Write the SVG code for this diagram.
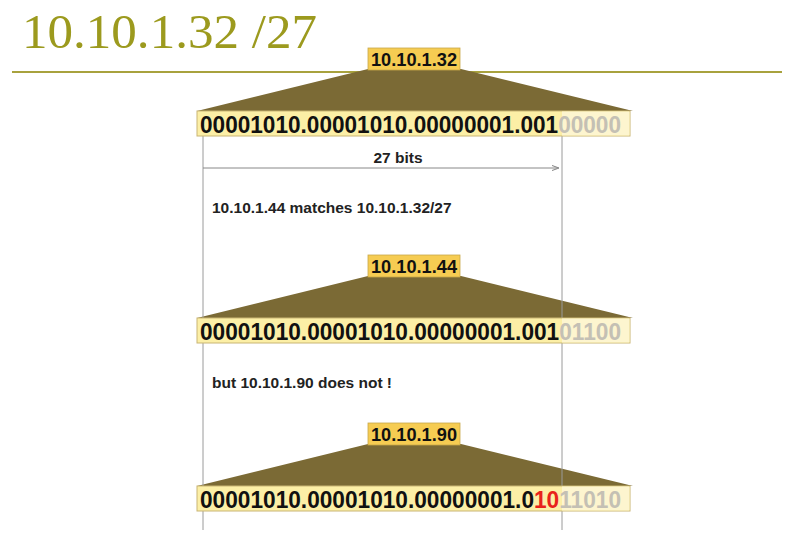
<svg xmlns="http://www.w3.org/2000/svg" width="788" height="546" viewBox="0 0 788 546">
<defs>
<style>
.title{font-family:"Liberation Serif","Times New Roman",serif;font-size:49px;fill:#9c9a1e}
.lbl{font-family:"Liberation Sans",Arial,sans-serif;font-weight:bold;font-size:18px;fill:#111}
.bin{font-family:"Liberation Sans",Arial,sans-serif;font-weight:bold;font-size:24px;fill:#111}
.note{font-family:"Liberation Sans",Arial,sans-serif;font-weight:bold;font-size:15.5px;fill:#222}
.trap{fill:#7b6a35}
.lbox{fill:#f6cc52;stroke:#c9a84a;stroke-width:0.8}
.bbox{fill:#fcefa6;stroke:#c9b574;stroke-width:1}
.bpale{fill:#fdf5cf}
.gray{fill:#c4c0b4}
.red{fill:#e8231b}
.vline{stroke:#9a9a9a;stroke-width:1;fill:none}
</style>
<marker id="arr" viewBox="0 0 10 10" refX="10" refY="5" markerWidth="7" markerHeight="7" orient="auto" markerUnits="userSpaceOnUse">
<path d="M0,1.5 L10,5 L0,8.5" fill="none" stroke="#888" stroke-width="1.5"/>
</marker>
</defs>
<rect width="788" height="546" fill="#ffffff"/>
<g id="header">
<text class="title" x="22" y="48" textLength="295" lengthAdjust="spacingAndGlyphs">10.10.1.32 /27</text>
<line x1="12" y1="72" x2="782" y2="72" stroke="#a8a23e" stroke-width="2"/>
</g>
<g id="trapezoids">
<polygon class="trap" points="368,69 461,69 633,111 197,111"/>
<polygon class="trap" points="368,276 461,276 633,318 197,318"/>
<polygon class="trap" points="368,444 461,444 633,486 197,486"/>
</g>
<g id="connectors">
<line class="vline" x1="203" y1="136" x2="203" y2="530"/>
<line class="vline" x1="562" y1="136" x2="562" y2="530"/>
<line x1="203" y1="168" x2="559" y2="168" stroke="#888" stroke-width="1" marker-end="url(#arr)"/>
</g>
<g id="node-32">
<rect class="lbox" x="368" y="48" width="92" height="22"/>
<text class="lbl" x="414" y="66" text-anchor="middle" textLength="86" lengthAdjust="spacingAndGlyphs">10.10.1.32</text>
<rect class="bbox" x="197" y="111" width="433" height="25"/>
<rect class="bpale" x="562" y="111.5" width="67.5" height="24"/>
<text class="bin" x="200" y="132.5" textLength="421" lengthAdjust="spacingAndGlyphs">00001010.00001010.00000001.001<tspan class="gray">00000</tspan></text>
</g>
<g id="label-27bits">
<text class="note" x="398" y="163" text-anchor="middle" font-size="14.5">27 bits</text>
</g>
<g id="note-match">
<text class="note" x="212" y="213">10.10.1.44 matches 10.10.1.32/27</text>
</g>
<g id="node-44">
<rect class="lbox" x="368" y="255" width="92" height="22"/>
<text class="lbl" x="414" y="273" text-anchor="middle" textLength="86" lengthAdjust="spacingAndGlyphs">10.10.1.44</text>
<rect class="bbox" x="197" y="318" width="433" height="25"/>
<rect class="bpale" x="562" y="318.5" width="67.5" height="24"/>
<text class="bin" x="200" y="339.5" textLength="421" lengthAdjust="spacingAndGlyphs">00001010.00001010.00000001.001<tspan class="gray">01100</tspan></text>
</g>
<g id="note-not">
<text class="note" x="212" y="388">but 10.10.1.90 does not !</text>
</g>
<g id="node-90">
<rect class="lbox" x="368" y="423" width="92" height="22"/>
<text class="lbl" x="414" y="441" text-anchor="middle" textLength="86" lengthAdjust="spacingAndGlyphs">10.10.1.90</text>
<rect class="bbox" x="197" y="486" width="433" height="25"/>
<rect class="bpale" x="562" y="486.5" width="67.5" height="24"/>
<text class="bin" x="200" y="507.5" textLength="421" lengthAdjust="spacingAndGlyphs">00001010.00001010.00000001.0<tspan class="red">10</tspan><tspan class="gray">11010</tspan></text>
</g>
</svg>
